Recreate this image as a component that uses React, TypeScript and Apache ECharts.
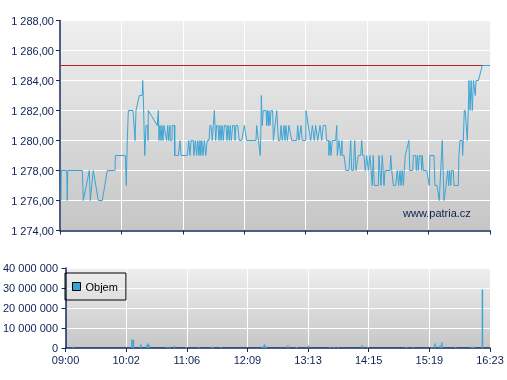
import React, { useEffect, useRef } from 'react';
import * as echarts from 'echarts';

// Session: 09:00 -> 16:23, x values are minutes since 09:00
const sessionMinutes = 443;
const timeLabels = ['09:00', '10:02', '11:06', '12:09', '13:13', '14:15', '15:19', '16:23'];
const priceTickLabels = ['1 274,00', '1 276,00', '1 278,00', '1 280,00', '1 282,00', '1 284,00', '1 286,00', '1 288,00'];
const volumeTickLabels = ['0', '10 000 000', '20 000 000', '30 000 000', '40 000 000'];
const refLevel = 1285;

const tradeMinutes = [
  1.0, 1.3, 6.9, 7.5, 8.0, 23.0, 24.0, 30.2, 31.2, 34.3, 39.5, 43.6, 48.7, 56.7, 57.0, 67.3, 68.3, 69.3, 70.4, 75.2,
  77.3, 78.3, 81.7, 84.8, 85.2, 85.8, 87.3, 88.6, 90.3, 90.7, 91.0, 100.2, 101.3, 102.0, 103.0, 104.1, 105.1, 106.1, 107.1, 109.9,
  111.0, 112.0, 113.3, 113.6, 115.4, 115.6, 117.8, 118.0, 118.2, 118.5, 121.9, 123.6, 124.7, 131.1, 132.6, 133.9, 135.0, 137.3, 138.0, 139.4,
  140.8, 141.9, 143.2, 144.2, 145.0, 146.0, 147.3, 148.7, 150.1, 151.7, 153.5, 154.5, 155.6, 156.9, 157.9, 159.0, 160.4, 161.4, 162.8, 163.8,
  164.8, 165.9, 166.9, 168.2, 169.3, 171.0, 172.0, 173.1, 174.4, 175.4, 176.5, 177.9, 179.6, 180.3, 181.3, 183.1, 184.7, 187.2, 189.9, 192.3,
  201.9, 202.6, 206.3, 207.1, 207.4, 208.4, 209.4, 212.2, 212.9, 213.6, 214.6, 215.3, 216.3, 217.4, 219.1, 219.8, 223.3, 224.0, 225.0, 226.6,
  227.7, 229.0, 230.8, 231.8, 232.8, 234.2, 235.9, 238.7, 243.8, 244.9, 246.2, 248.3, 249.6, 253.1, 253.4, 258.3, 260.0, 262.0, 263.4, 265.5,
  267.9, 269.6, 271.2, 273.7, 274.7, 276.8, 277.0, 278.2, 279.2, 280.5, 284.0, 285.1, 285.7, 287.4, 289.2, 290.5, 290.8, 292.6, 294.6, 297.7,
  299.5, 300.5, 302.2, 303.6, 304.9, 307.3, 309.8, 310.8, 311.9, 313.2, 314.5, 316.0, 317.6, 319.3, 321.7, 322.7, 323.8, 327.9, 328.6, 330.7,
  332.0, 333.8, 334.8, 340.0, 340.7, 341.8, 343.4, 345.8, 347.5, 348.9, 350.3, 351.3, 352.6, 353.7, 354.7, 355.7, 359.5, 360.3, 363.4, 364.0,
  366.5, 367.1, 368.2, 369.2, 370.2, 371.9, 372.6, 373.3, 374.3, 377.8, 380.4, 381.2, 385.3, 386.3, 388.4, 390.7, 393.8, 395.6, 397.7, 399.4,
  400.4, 401.4, 402.5, 403.5, 405.2, 405.9, 410.3, 411.0, 412.1, 414.4, 414.8, 415.5, 416.5, 417.5, 419.6, 421.1, 421.2, 422.5, 423.5, 424.8,
  425.9, 427.9, 428.6, 431.0, 435.1, 443.0,
];

const tradePrices = [
  1276, 1278, 1278, 1276, 1278, 1278, 1276, 1278, 1276, 1278, 1276, 1276, 1278, 1278, 1279, 1279, 1277, 1280, 1282, 1282,
  1280, 1282, 1283, 1283, 1284, 1283, 1279, 1281, 1281, 1280, 1282, 1281, 1282, 1280, 1281, 1280, 1281, 1280, 1281, 1280,
  1281, 1280, 1281, 1280, 1280, 1281, 1281, 1279, 1281, 1279, 1279, 1280, 1279, 1279, 1280, 1279, 1280, 1280, 1279, 1280,
  1279, 1280, 1279, 1280, 1279, 1280, 1279, 1280, 1279, 1280, 1280, 1281, 1281, 1280, 1281, 1282, 1280, 1281, 1281, 1280,
  1281, 1280, 1281, 1280, 1281, 1281, 1280, 1281, 1280, 1281, 1280, 1281, 1281, 1280, 1281, 1281, 1280, 1280, 1281, 1280,
  1280, 1281, 1279, 1281, 1283, 1281, 1282, 1282, 1281, 1282, 1281, 1282, 1281, 1282, 1282, 1280, 1282, 1282, 1280, 1280,
  1281, 1280, 1281, 1280, 1281, 1280, 1281, 1280, 1280, 1281, 1280, 1281, 1280, 1280, 1282, 1280, 1281, 1280, 1281, 1280,
  1281, 1280, 1281, 1281, 1280, 1280, 1279, 1280, 1279, 1280, 1280, 1281, 1279, 1280, 1279, 1280, 1279, 1279, 1278, 1278,
  1280, 1278, 1278, 1280, 1278, 1279, 1279, 1280, 1279, 1279, 1278, 1279, 1278, 1279, 1277, 1279, 1277, 1277, 1279, 1277,
  1279, 1277, 1278, 1278, 1279, 1278, 1277, 1277, 1278, 1277, 1278, 1277, 1278, 1277, 1278, 1279, 1280, 1278, 1278, 1279,
  1279, 1278, 1279, 1278, 1279, 1279, 1278, 1279, 1278, 1278, 1277, 1279, 1279, 1277, 1277, 1276, 1280, 1276, 1277, 1278,
  1277, 1278, 1277, 1278, 1278, 1277, 1277, 1279, 1280, 1280, 1279, 1280, 1282, 1282, 1280, 1283, 1284, 1282, 1284, 1282,
  1284, 1283, 1284, 1284, 1285, 1285,
];

const volumeMinutes = [
  7.9, 69.3, 70.8, 78.6, 84.8, 85.8, 86.8, 105.4, 108.5, 113.6, 126.0, 139.4, 152.8, 153.8, 162.0, 205.7, 206.8, 207.8, 208.8, 209.4,
  232.1, 241.4, 253.7, 276.4, 280.5, 284.6, 309.4, 315.6, 355.7, 362.9, 382.5, 385.6, 390.8, 392.8, 407.2, 422.7, 424.8, 426.8, 435.1,
];
const volumeValues = [
  600000, 4200000, 4100000, 1700000, 1200000, 2200000, 1600000, 600000, 600000, 1000000, 500000, 400000, 600000, 600000, 500000, 600000, 1200000, 1800000, 900000, 500000,
  1200000, 500000, 1200000, 500000, 500000, 600000, 1200000, 600000, 500000, 500000, 500000, 2300000, 1300000, 2700000, 500000, 600000, 600000, 600000, 29200000,
];

const FONT = '"Liberation Sans", Arial, sans-serif';
const AXIS_COLOR = '#13295f';
const LABEL_COLOR = '#0e2152';
const LINE_COLOR = '#3ca4d4';

export default function App() {
  const ref = useRef<HTMLDivElement>(null);

  useEffect(() => {
    if (!ref.current) return;
    const chart = echarts.init(ref.current, null, { renderer: 'svg' });
    const step = sessionMinutes / 7;
    const bg = () =>
      new echarts.graphic.LinearGradient(0, 0, 0, 1, [
        { offset: 0, color: '#efefef' },
        { offset: 1, color: '#c6c6c6' },
      ]);
    const xBase = (gridIndex: number, showLabels: boolean) => ({
      type: 'value',
      gridIndex,
      min: 0,
      max: sessionMinutes,
      interval: step,
      axisLine: { show: true, onZero: false, lineStyle: { color: AXIS_COLOR, width: 1.5 } },
      axisTick: { show: true, length: 4, lineStyle: { color: AXIS_COLOR, width: 1 } },
      axisLabel: {
        show: showLabels,
        margin: 6,
        color: LABEL_COLOR,
        fontSize: 11,
        fontFamily: FONT,
        formatter: (v: number) => timeLabels[Math.round(v / step)] ?? '',
      },
      splitLine: { show: true, lineStyle: { color: '#ffffff', width: 1 } },
    });
    const yBase = (gridIndex: number, min: number, max: number, interval: number, labels: string[], margin: number) => ({
      type: 'value',
      gridIndex,
      min,
      max,
      interval,
      axisLine: { show: true, onZero: false, lineStyle: { color: AXIS_COLOR, width: 1.5 } },
      axisTick: { show: true, length: 4, lineStyle: { color: AXIS_COLOR, width: 1 } },
      axisLabel: {
        margin,
        color: LABEL_COLOR,
        fontSize: 11,
        fontFamily: FONT,
        formatter: (v: number) => labels[Math.round((v - min) / interval)] ?? '',
      },
      splitLine: { show: true, lineStyle: { color: '#ffffff', width: 1 } },
    });

    chart.setOption({
      animation: false,
      grid: [
        { left: 60, right: 17, top: 20.5, height: 210, show: true, backgroundColor: bg(), borderWidth: 0 },
        { left: 60, right: 17, top: 268, height: 80, show: true, backgroundColor: bg(), borderWidth: 0 },
      ],
      xAxis: [xBase(0, false), xBase(1, true)],
      yAxis: [
        yBase(0, 1274, 1288, 2, priceTickLabels, 6),
        yBase(1, 0, 40000000, 10000000, volumeTickLabels, 7.5),
      ],
      legend: {
        data: [{ name: 'Objem', icon: 'rect' }],
        left: 65,
        top: 273,
        borderColor: '#000',
        borderWidth: 1,
        borderRadius: 0,
        shadowBlur: 0,
        backgroundColor: 'transparent',
        padding: [8, 8, 8, 7],
        itemWidth: 8,
        itemHeight: 8,
        itemGap: 5,
        itemStyle: { borderColor: '#000', borderWidth: 1 },
        textStyle: { fontSize: 11, fontFamily: FONT, color: '#000' },
      },
      graphic: [
        {
          type: 'text',
          left: 403,
          top: 207,
          style: { text: 'www.patria.cz', fill: LABEL_COLOR, font: `11px ${FONT}` },
        },
      ],
      series: [
        {
          type: 'line',
          name: 'Reference',
          xAxisIndex: 0,
          yAxisIndex: 0,
          data: [[0, refLevel], [sessionMinutes, refLevel]],
          symbol: 'none',
          silent: true,
          lineStyle: { color: '#b3232a', width: 1 },
          z: 1,
        },
        {
          type: 'line',
          name: 'Kurz',
          xAxisIndex: 0,
          yAxisIndex: 0,
          data: tradeMinutes.map((m, i) => [m, tradePrices[i]]),
          symbol: 'none',
          lineStyle: { color: LINE_COLOR, width: 1 },
          z: 2,
        },
        {
          type: 'bar',
          name: 'Objem',
          xAxisIndex: 1,
          yAxisIndex: 1,
          data: volumeMinutes.map((m, i) => [m, volumeValues[i]]),
          barWidth: 1.5,
          itemStyle: { color: LINE_COLOR },
        },
      ],
    });
    return () => chart.dispose();
  }, []);

  return <div ref={ref} style={{ position: 'fixed', left: 0, top: 0, width: 507, height: 380 }} />;
}
